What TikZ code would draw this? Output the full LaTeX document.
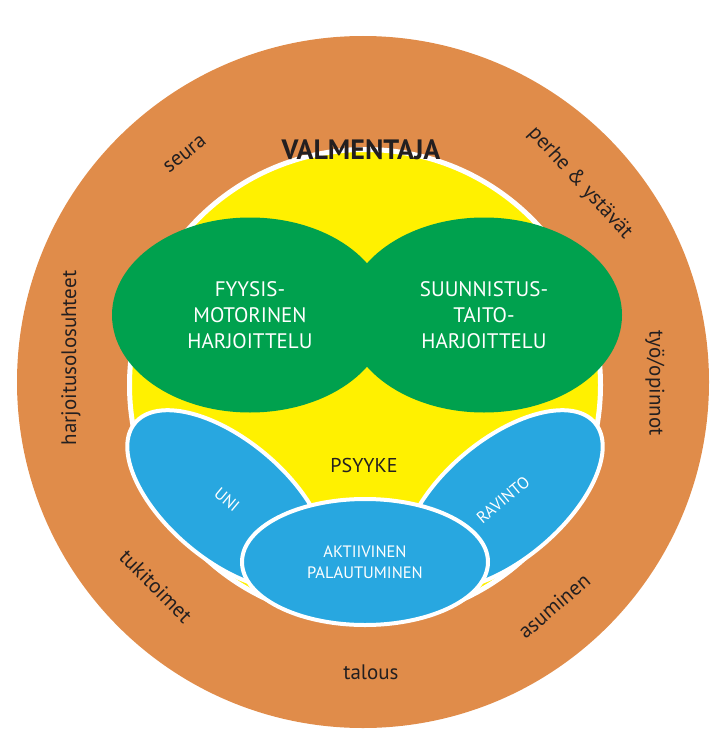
\documentclass[tikz,border=0pt]{standalone}
\usepackage{fontspec}
\setmainfont{PT Sans}
\usepackage{tikz}
\usetikzlibrary{shapes.geometric}
\definecolor{ringorange}{RGB}{224,140,74}
\definecolor{psyyellow}{RGB}{255,241,0}
\definecolor{traingreen}{RGB}{0,161,78}
\definecolor{restblue}{RGB}{40,167,224}
\definecolor{labeltext}{RGB}{35,31,32}
\tikzstyle{outerring} = [circle, fill=ringorange, minimum size=692pt, inner sep=0pt]
\tikzstyle{psyche} = [circle, fill=psyyellow, draw=white, line width=5pt, minimum size=471pt, inner sep=0pt]
\tikzstyle{training} = [ellipse, fill=traingreen, minimum width=276pt, minimum height=195pt, inner sep=0pt, text=white, align=center, font=\fontsize{21}{26}\selectfont]
\tikzstyle{recovery} = [ellipse, fill=restblue, draw=white, line width=4pt, inner sep=0pt, text=white, align=center, font=\fontsize{16.5}{21}\selectfont]
\tikzstyle{ringtext} = [text=labeltext, font=\fontsize{21}{24}\selectfont]

\begin{document}
\begin{tikzpicture}[x=1pt, y=-1pt]
        \useasboundingbox (0,0) rectangle (720,749);

        \node[outerring]                                          (outer)        at (363,382) {};
        \node[psyche]                                             (inner)        at (365,385) {};
        \node[training]                                           (fyysis)       at (250,315) {FYYSIS-\\MOTORINEN\\HARJOITTELU};
        \node[training]                                           (suunnistus)   at (484,315) {SUUNNISTUS-\\TAITO-\\HARJOITTELU};
        \node[recovery, minimum width=240pt, minimum height=120pt, rotate=-40] (uni)     at (227,500) {UNI};
        \node[recovery, minimum width=240pt, minimum height=120pt, rotate=40]  (ravinto) at (503,500) {RAVINTO};
        \node[recovery, minimum width=246pt, minimum height=126pt] (palautuminen) at (365,562) {AKTIIVINEN\\PALAUTUMINEN};

        \node[ringtext, font=\fontsize{20}{24}\selectfont]        (psyyke)       at (364,465) {PSYYKE};
        \node[text=labeltext, font=\fontsize{28}{30}\selectfont\bfseries] (valmentaja) at (361,150) {VALMENTAJA};

        % outer ring
        \node[ringtext, rotate=38]                                (seura)        at (185,154) {seura};
        \node[ringtext, rotate=-47.5]                             (perhe)        at (580,183) {perhe \& ystävät};
        \node[ringtext, rotate=-90]                               (tyo)          at (655,383) {työ/opinnot};
        \node[ringtext, rotate=40.5]                              (asuminen)     at (554,606) {asuminen};
        \node[ringtext]                                           (talous)       at (371,672) {talous};
        \node[ringtext, rotate=-45.4]                             (tukitoimet)   at (156,586) {tukitoimet};
        \node[ringtext, rotate=90]                                (harjoitus)    at (71,358)  {harjoitusolosuhteet};
    \end{tikzpicture}
\end{document}
